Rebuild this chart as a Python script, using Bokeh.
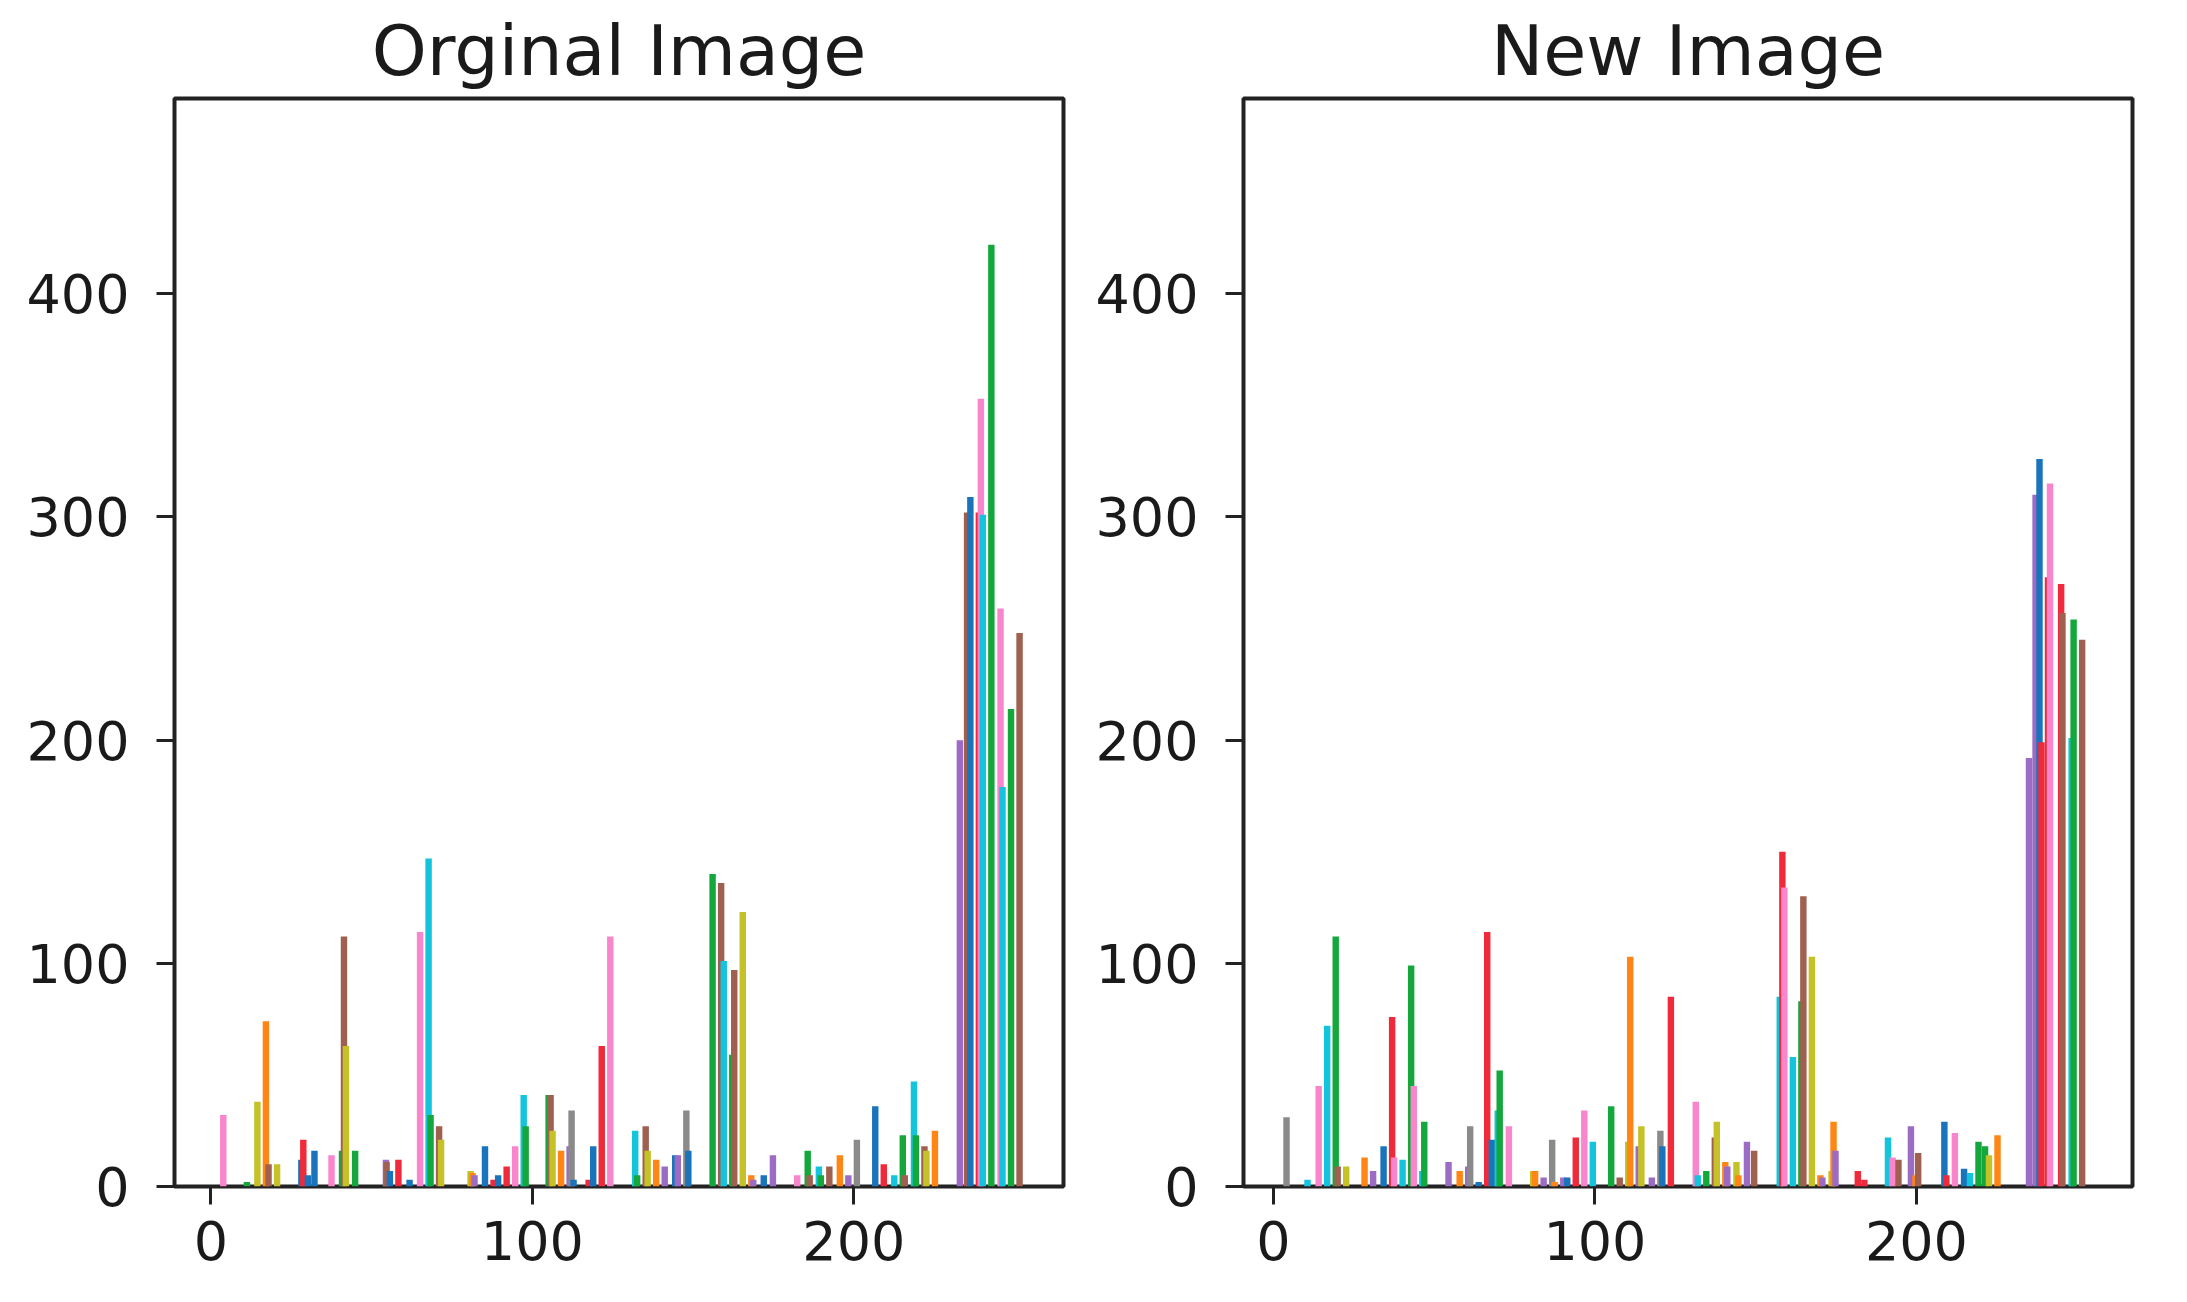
import numpy as np
from bokeh.plotting import figure
from bokeh.layouts import row
from bokeh.models import Range1d, FixedTicker, ColumnDataSource
from bokeh.embed import file_html
from bokeh.resources import INLINE

# ---- data: histogram of image columns (100 datasets, 10 bins over 0..255) ----
N_COLS = 100
BIN_EDGES = np.linspace(0, 255, 11)

orig_bin = [0]*6 + [1]*9 + [2]*10 + [3]*10 + [4]*11 + [5]*10 + [6]*10 + [7]*9 + [8]*10 + [9]*11
orig_col = [6, 42, 58, 71, 75, 88,
            0, 3, 10, 20, 46, 62, 65, 68, 82,
            4, 5, 10, 23, 40, 56, 69, 72, 85, 88,
            8, 11, 14, 30, 43, 50, 63, 76, 89, 92,
            2, 5, 8, 21, 34, 37, 40, 63, 70, 83, 96,
            9, 12, 25, 28, 41, 54, 70, 74, 87, 90,
            2, 15, 19, 32, 35, 48, 61, 64, 80, 94,
            6, 22, 25, 39, 42, 55, 71, 84, 97,
            0, 13, 29, 42, 45, 59, 62, 75, 78, 91,
            4, 15, 20, 33, 36, 39, 52, 66, 69, 82, 95]
orig_count = [32, 2, 38, 74, 10, 10,
              12, 21, 5, 16, 14, 16, 112, 63, 16,
              12, 11, 7, 12, 3, 114, 147, 32, 27, 21,
              7, 6, 5, 18, 3, 5, 9, 18, 41, 27,
              41, 41, 25, 16, 18, 34, 3, 3, 18, 63, 112,
              25, 5, 27, 16, 12, 9, 14, 14, 34, 16,
              140, 136, 101, 59, 97, 123, 5, 3, 5, 14,
              5, 16, 5, 9, 5, 9, 14, 5, 21,
              36, 10, 5, 23, 5, 47, 23, 18, 16, 25,
              200, 302, 309, 302, 353, 301, 422, 259, 179, 214, 248]

new_bin = [0]*7 + [1]*10 + [2]*10 + [3]*10 + [4]*10 + [5]*11 + [6]*12 + [7]*8 + [8]*9 + [9]*11
new_col = [7, 39, 56, 69, 82, 85, 98,
           1, 14, 30, 43, 46, 59, 72, 76, 89, 92,
           4, 21, 34, 37, 50, 63, 70, 79, 82, 96,
           8, 11, 24, 37, 41, 54, 60, 73, 86, 99,
           2, 15, 28, 31, 44, 48, 64, 77, 80, 93,
           6, 9, 22, 35, 38, 51, 54, 68, 71, 84, 95,
           9, 13, 16, 29, 42, 45, 58, 71, 74, 88, 91, 94,
           3, 13, 49, 56, 65, 84, 91, 95,
           10, 13, 26, 40, 49, 62, 72, 78, 91,
           14, 24, 30, 33, 43, 46, 63, 65, 79, 82, 95]
new_count = [31, 3, 45, 72, 112, 9, 9,
             13, 7, 18, 76, 13, 12, 99, 45, 7, 29,
             11, 7, 9, 27, 2, 114, 21, 34, 52, 27,
             7, 7, 4, 21, 2, 4, 4, 22, 34, 20,
             36, 4, 20, 103, 18, 27, 4, 25, 18, 85,
             38, 5, 7, 22, 29, 11, 9, 11, 5, 20, 16,
             85, 150, 134, 58, 83, 130, 103, 5, 4, 7, 29, 16,
             7, 3, 22, 13, 12, 27, 5, 15,
             29, 5, 24, 8, 6, 20, 18, 14, 23,
             192, 310, 326, 199, 273, 315, 270, 257, 201, 254, 245]

titles = ["Orginal Image", "New Image"]
x_ticks = [0, 100, 200]
y_ticks = [0, 100, 200, 300, 400]

# ---- style ----
PALETTE = ["#1a74bc", "#ff8514", "#14a83c", "#f02a3a", "#9c6cc4",
           "#a0604f", "#f986cc", "#8a8a8a", "#c4c226", "#14c4dc"]
FONT = "DejaVu Sans"
TXT = "#1a1a1a"


def make_panel(title, bins, cols, counts, xr, border_left, border_right):
    bins = np.asarray(bins)
    cols = np.asarray(cols)
    counts = np.asarray(counts, dtype=float)
    order = np.lexsort((bins, cols))
    bins, cols, counts = bins[order], cols[order], counts[order]
    bw = BIN_EDGES[1] - BIN_EDGES[0]
    slot = 0.8 * bw / N_COLS
    x = BIN_EDGES[bins] + 0.1 * bw + (cols + 0.5) * slot
    colors = [PALETTE[c % 10] for c in cols]
    src = ColumnDataSource(dict(x=x, top=counts, color=colors))

    p = figure(frame_width=889, frame_height=1088,
               x_range=Range1d(*xr), y_range=Range1d(0, 487.5),
               output_backend="svg", toolbar_location=None,
               min_border_left=border_left, min_border_right=border_right,
               min_border_top=90, min_border_bottom=100,
               background_fill_color="white", border_fill_color="white")
    p.vbar(x="x", top="top", bottom=0, width=2.0, color="color", source=src,
           line_color=None)

    p.title.text = title
    p.title.align = "center"
    p.title.text_font = FONT
    p.title.text_font_size = "70px"
    p.title.text_font_style = "normal"
    p.title.text_color = TXT
    p.title.standoff = 14

    p.xgrid.visible = False
    p.ygrid.visible = False
    p.outline_line_color = "#222222"
    p.outline_line_width = 4
    p.outline_line_alpha = 1.0

    for ax, ticks in ((p.xaxis[0], x_ticks), (p.yaxis[0], y_ticks)):
        ax.ticker = FixedTicker(ticks=ticks)
        ax.axis_line_color = None
        ax.major_tick_out = 18
        ax.major_tick_in = 0
        ax.minor_tick_out = 0
        ax.minor_tick_in = 0
        ax.major_tick_line_width = 3
        ax.major_tick_line_color = "#222222"
        ax.major_label_text_font = FONT
        ax.major_label_text_font_size = "54px"
        ax.major_label_text_color = TXT
    p.xaxis[0].major_label_standoff = 16
    p.yaxis[0].major_label_standoff = 27
    return p


p1 = make_panel(titles[0], orig_bin, orig_col, orig_count, (-11.3, 265.2), 174, 10)
p2 = make_panel(titles[1], new_bin, new_col, new_count, (-9.3, 267.2), 170, 30)

layout = row(p1, p2)
open("out.html", "w").write(file_html(layout, INLINE))
